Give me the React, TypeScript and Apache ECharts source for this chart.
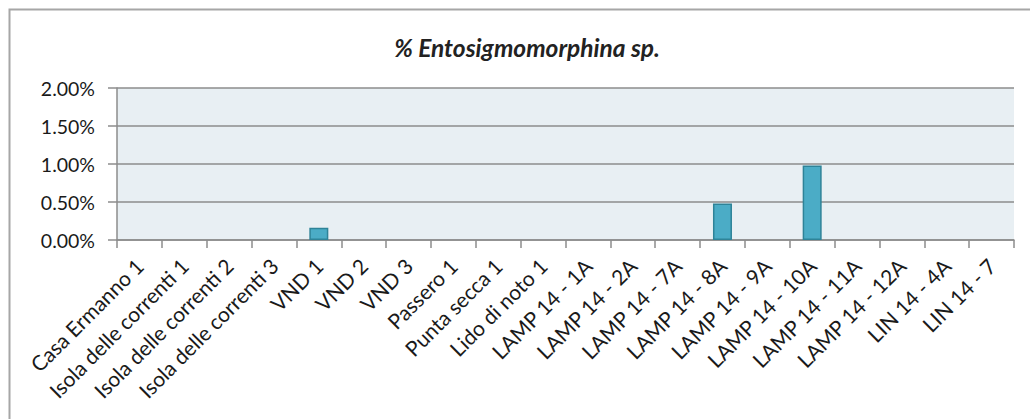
import React, { useEffect, useRef } from "react";
import * as echarts from "echarts";

const categories: string[] = [
  "Casa Ermanno 1",
  "Isola delle correnti 1",
  "Isola delle correnti 2",
  "Isola delle correnti 3",
  "VND 1",
  "VND 2",
  "VND 3",
  "Passero 1",
  "Punta secca 1",
  "Lido di noto 1",
  "LAMP 14 - 1A",
  "LAMP 14 - 2A",
  "LAMP 14 - 7A",
  "LAMP 14 - 8A",
  "LAMP 14 - 9A",
  "LAMP 14 - 10A",
  "LAMP 14 - 11A",
  "LAMP 14 - 12A",
  "LIN 14 - 4A",
  "LIN 14 - 7",
];

// percent values
const values: number[] = [0, 0, 0, 0, 0.16, 0, 0, 0, 0, 0, 0, 0, 0, 0.48, 0, 0.98, 0, 0, 0, 0];

const yMin = 0;
const yMax = 2;
const yInterval = 0.5;

const titleText = "% Entosigmomorphina sp.";

const FONT = "Lato, 'Liberation Sans', sans-serif";

export default function App() {
  const ref = useRef<HTMLDivElement>(null);

  useEffect(() => {
    document.body.style.margin = "0";
    if (!ref.current) return;
    const chart = echarts.init(ref.current, null, { renderer: "svg" });
    chart.setOption({
      animation: false,
      backgroundColor: "#ffffff",
      title: {
        text: titleText,
        left: 522,
        top: 30,
        textAlign: "center",
        textStyle: {
          fontFamily: FONT,
          fontSize: 24.5,
          fontStyle: "italic",
          fontWeight: "bold",
          color: "#222222",
        },
      },
      graphic: [
        {
          type: "rect",
          shape: { x: 9.5, y: 9.5, width: 1100, height: 500 },
          style: { fill: "none", stroke: "#a6a6a6", lineWidth: 2 },
          silent: true,
        },
      ],
      grid: {
        left: 117,
        top: 88,
        right: 16,
        bottom: 179,
        show: true,
        backgroundColor: "#e8eff3",
        borderWidth: 0,
      },
      xAxis: {
        type: "category",
        data: categories,
        axisLine: { show: true, lineStyle: { color: "#8c8c8c", width: 1.5 } },
        axisTick: {
          show: true,
          alignWithLabel: false,
          length: 8,
          lineStyle: { color: "#8c8c8c", width: 1.5 },
        },
        axisLabel: {
          rotate: 45,
          interval: 0,
          margin: 22,
          fontFamily: FONT,
          fontSize: 21,
          color: "#1a1a1a",
        },
      },
      yAxis: {
        type: "value",
        min: yMin,
        max: yMax,
        interval: yInterval,
        axisLine: { show: true, lineStyle: { color: "#8c8c8c", width: 1.5 } },
        axisTick: { show: true, length: 9, lineStyle: { color: "#8c8c8c", width: 1.5 } },
        splitLine: { show: true, lineStyle: { color: "#8c8c8c", width: 1.5 } },
        axisLabel: {
          margin: 22,
          fontFamily: FONT,
          fontSize: 19.5,
          color: "#1a1a1a",
          formatter: (v: number) => v.toFixed(2) + "%",
        },
      },
      series: [
        {
          type: "bar",
          data: values.map((v) => (v === 0 ? null : v)),
          barWidth: 19,
          itemStyle: {
            color: "#4bacc6",
            borderColor: "#2e8398",
            borderWidth: 1.5,
          },
        },
      ],
    });
    return () => chart.dispose();
  }, []);

  return <div ref={ref} style={{ width: 1030, height: 419 }} />;
}
